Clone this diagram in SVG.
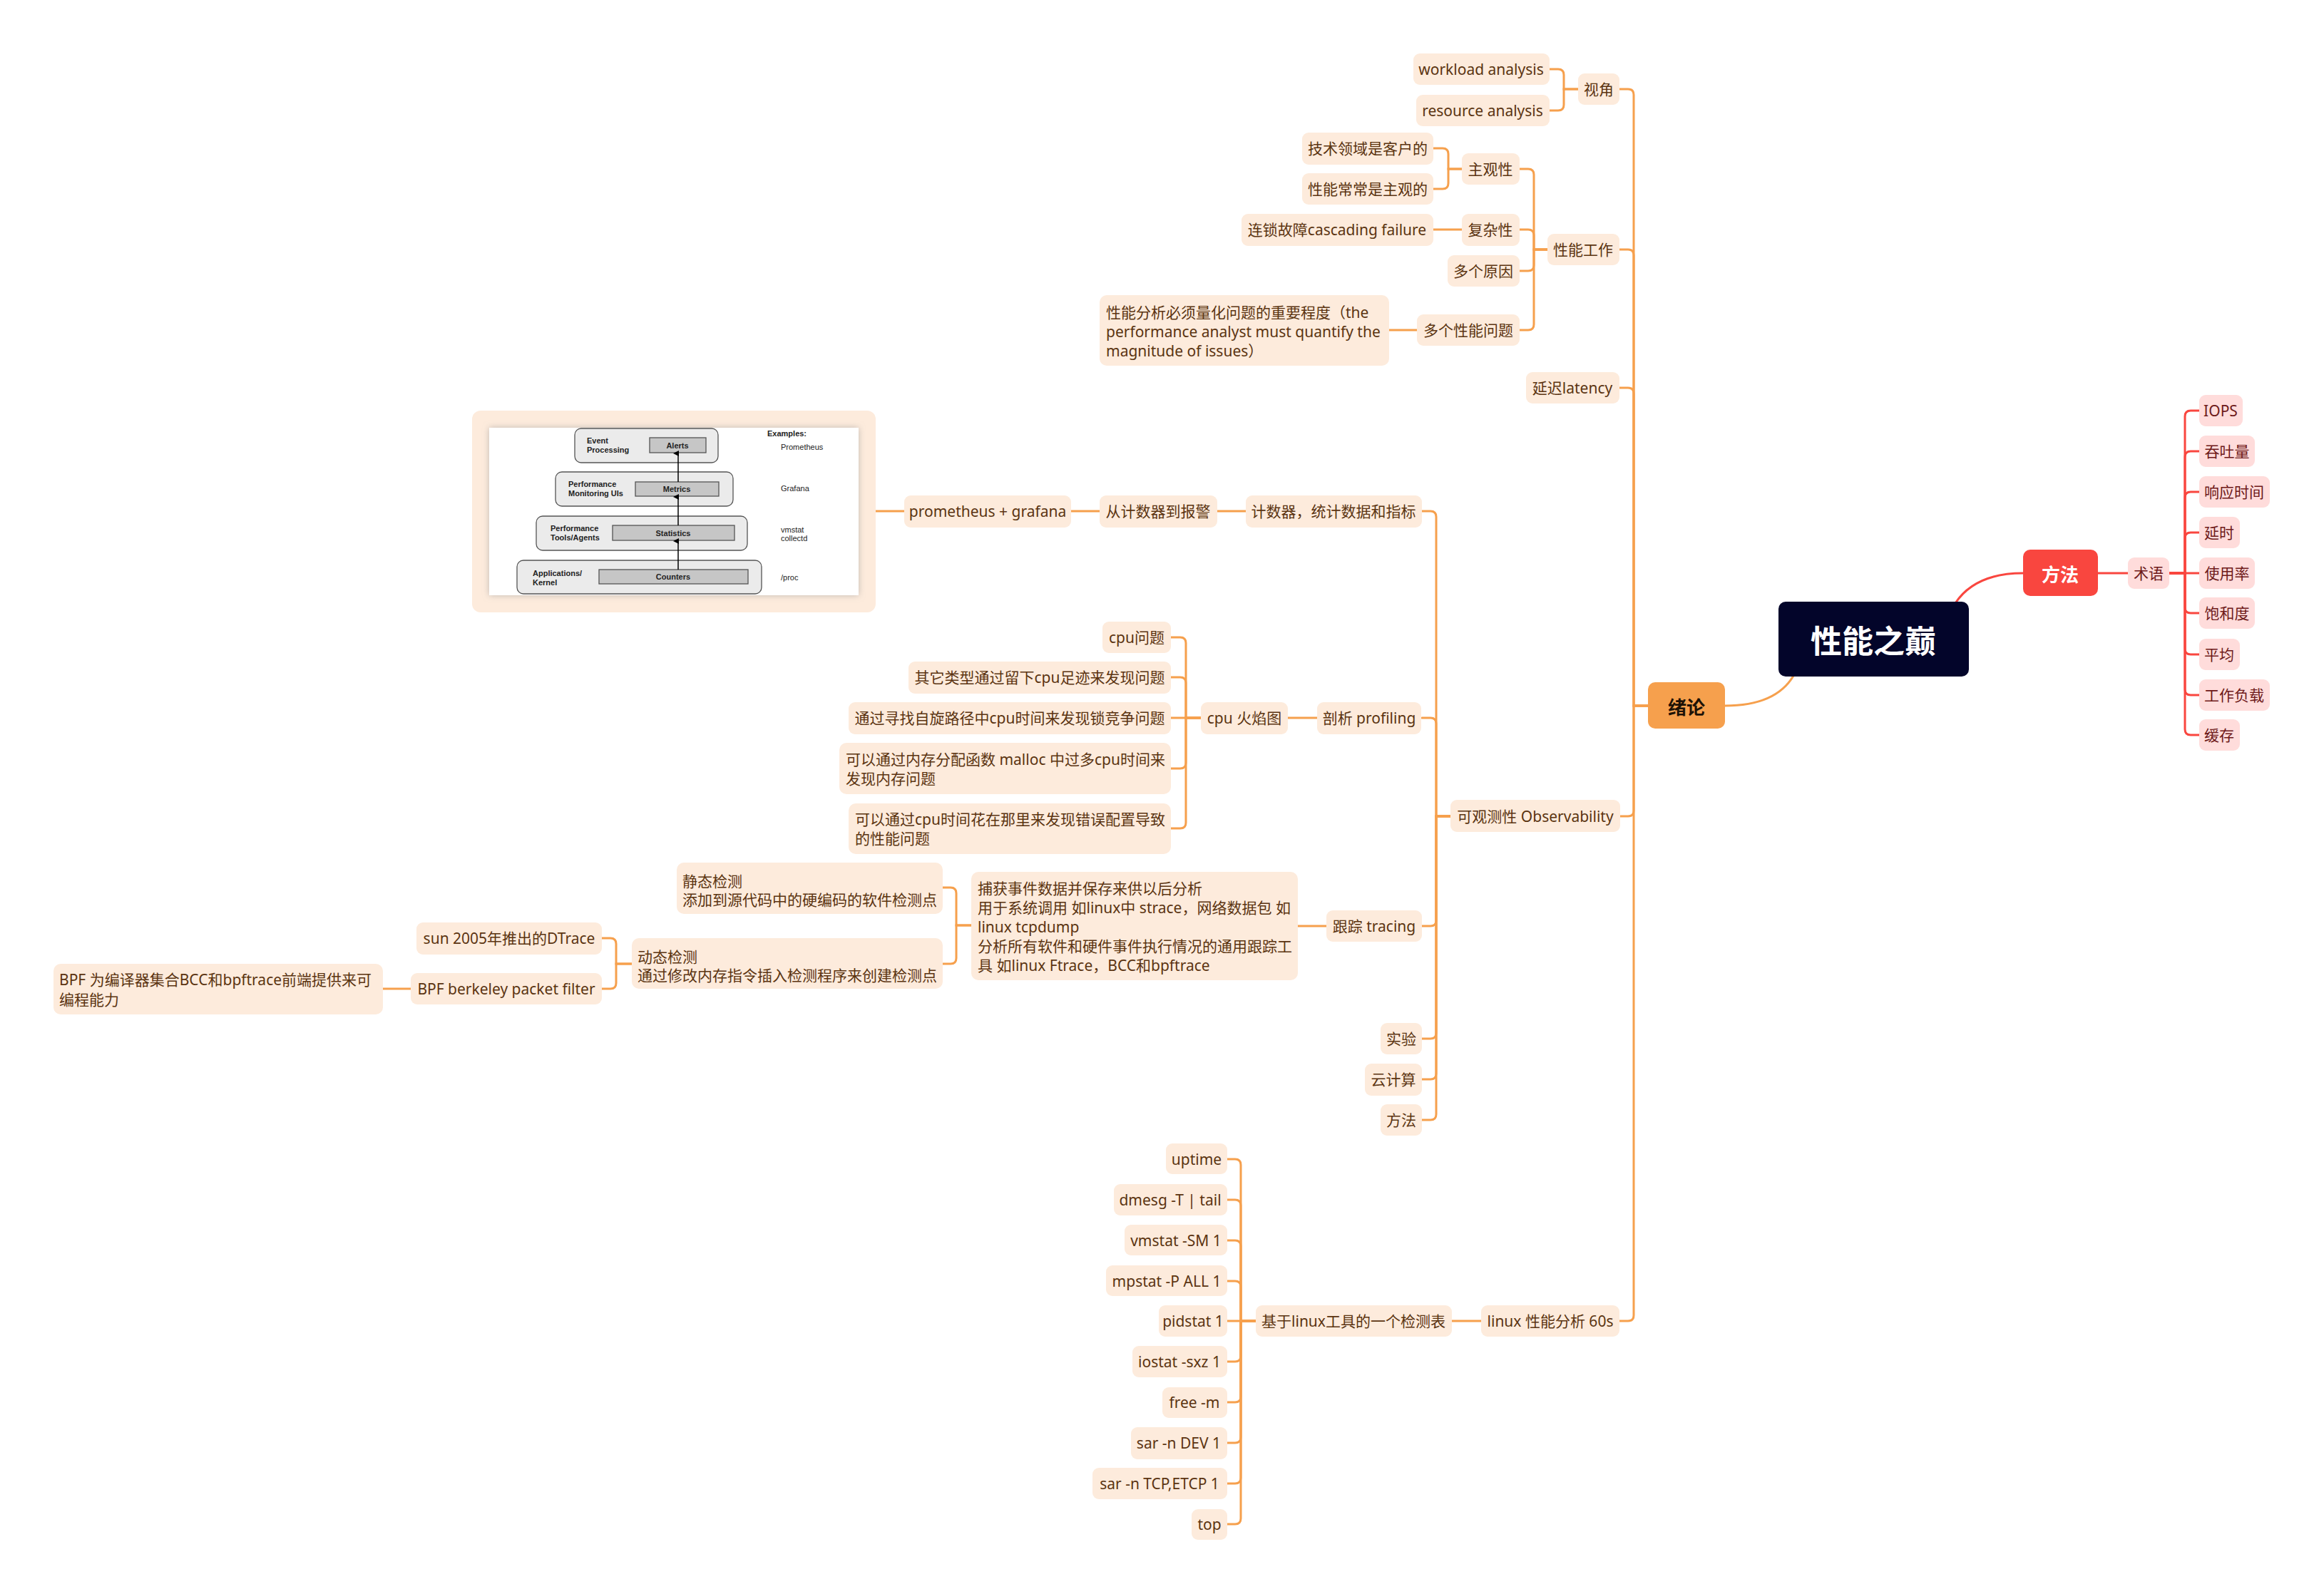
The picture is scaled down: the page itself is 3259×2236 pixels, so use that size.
<svg xmlns="http://www.w3.org/2000/svg" width="3259" height="2236" viewBox="0 0 3259 2236">
<style>
.bg{fill:#ffffff}
.n rect{fill:#FDEBDC}
.n text,.t{font-family:"Noto Sans","Noto Sans CJK SC",sans-serif;font-size:21px;fill:#5B3411;dominant-baseline:central}
.c{text-anchor:middle}
.p rect{fill:#FFDCDB}
.p text{font-family:"Noto Sans","Noto Sans CJK SC",sans-serif;font-size:21px;fill:#6E1A1A;dominant-baseline:central;text-anchor:middle}
.lo{fill:none;stroke:#F6A04D;stroke-width:3;stroke-linecap:round}
.lr{fill:none;stroke:#F9463F;stroke-width:3;stroke-linecap:round}
.im{font-family:"Liberation Sans",Arial,sans-serif;font-size:11px;fill:#222;dominant-baseline:central}
.imb{font-weight:bold}
.lay{fill:#EBEBEB;stroke:#555;stroke-width:1.3}
.inn{fill:#C6C6C6;stroke:#555;stroke-width:1.3}
</style>
<defs>
<filter id="sh" x="-10%" y="-10%" width="120%" height="120%">
<feDropShadow dx="0" dy="0" stdDeviation="5" flood-color="#999" flood-opacity="0.6"/>
</filter>
<marker id="ah" markerWidth="8" markerHeight="8" refX="4" refY="7" orient="auto" markerUnits="userSpaceOnUse" viewBox="0 0 8 8">
<path d="M0 8L4 0L8 8Z" fill="#000"/>
</marker>
</defs>
<rect class="bg" x="0" y="0" width="3259" height="2236"/>

<g id="connectors">
<path class="lr" stroke-width="4" d="M2742 846Q2770 804 2837 804"/>
<path class="lo" stroke-width="4" d="M2515 948Q2490 990 2419 990"/>
<path class="lr" d="M2942 804H2984"/>
<path class="lr" d="M3042 804H3064V584Q3064 576 3072 576H3084"/>
<path class="lr" d="M3042 804H3064V641Q3064 633 3072 633H3084"/>
<path class="lr" d="M3042 804H3064V698Q3064 690 3072 690H3084"/>
<path class="lr" d="M3042 804H3064V755Q3064 747 3072 747H3084"/>
<path class="lr" d="M3042 804H3084"/>
<path class="lr" d="M3042 804H3064V852Q3064 860 3072 860H3084"/>
<path class="lr" d="M3042 804H3064V910Q3064 918 3072 918H3084"/>
<path class="lr" d="M3042 804H3064V967Q3064 975 3072 975H3084"/>
<path class="lr" d="M3042 804H3064V1023Q3064 1031 3072 1031H3084"/>

<path class="lo" d="M2311 990H2291V133Q2291 125 2283 125H2271"/>
<path class="lo" d="M2311 990H2291V358Q2291 350 2283 350H2271"/>
<path class="lo" d="M2311 990H2291V552Q2291 544 2283 544H2271"/>
<path class="lo" d="M2311 990H2291V1137Q2291 1145 2283 1145H2271"/>
<path class="lo" d="M2311 990H2291V1845Q2291 1853 2283 1853H2271"/>

<path class="lo" d="M2213 125H2193V105Q2193 97 2185 97H2173"/>
<path class="lo" d="M2213 125H2193V147Q2193 155 2185 155H2173"/>

<path class="lo" d="M2170 350H2151V245Q2151 237 2143 237H2131"/>
<path class="lo" d="M2170 350H2151V330Q2151 322 2143 322H2131"/>
<path class="lo" d="M2170 350H2151V372Q2151 380 2143 380H2131"/>
<path class="lo" d="M2170 350H2151V455Q2151 463 2143 463H2131"/>

<path class="lo" d="M2050 237H2031V216Q2031 208 2023 208H2010"/>
<path class="lo" d="M2050 237H2031V257Q2031 265 2023 265H2010"/>
<path class="lo" d="M2050 322H2010"/>
<path class="lo" d="M1987 463H1948"/>

<path class="lo" d="M2034 1145H2014V725Q2014 717 2006 717H1994"/>
<path class="lo" d="M2034 1145H2014V1015Q2014 1007 2006 1007H1994"/>
<path class="lo" d="M2034 1145H2014V1291Q2014 1299 2006 1299H1994"/>
<path class="lo" d="M2034 1145H2014V1449Q2014 1457 2006 1457H1994"/>
<path class="lo" d="M2034 1145H2014V1506Q2014 1514 2006 1514H1994"/>
<path class="lo" d="M2034 1145H2014V1563Q2014 1571 2006 1571H1994"/>

<path class="lo" d="M1747 717H1707"/>
<path class="lo" d="M1542 717H1502"/>
<path class="lo" d="M1268 717H1228"/>

<path class="lo" d="M1847 1007H1806"/>
<path class="lo" d="M1684 1007H1663V902Q1663 894 1655 894H1642"/>
<path class="lo" d="M1684 1007H1663V958Q1663 950 1655 950H1642"/>
<path class="lo" d="M1684 1007H1642"/>
<path class="lo" d="M1684 1007H1663V1070Q1663 1078 1655 1078H1642"/>
<path class="lo" d="M1684 1007H1663V1154Q1663 1162 1655 1162H1642"/>

<path class="lo" d="M1860 1299H1820"/>
<path class="lo" d="M1362 1298H1341V1253Q1341 1245 1333 1245H1322"/>
<path class="lo" d="M1362 1298H1341V1344Q1341 1352 1333 1352H1322"/>
<path class="lo" d="M886 1352H864V1324Q864 1316 856 1316H844"/>
<path class="lo" d="M886 1352H864V1379Q864 1387 856 1387H844"/>
<path class="lo" d="M576 1387H537"/>

<path class="lo" d="M2077 1853H2036"/>
<path class="lo" d="M1761 1853H1740V1634Q1740 1626 1732 1626H1721"/>
<path class="lo" d="M1761 1853H1740V1691Q1740 1683 1732 1683H1721"/>
<path class="lo" d="M1761 1853H1740V1748Q1740 1740 1732 1740H1721"/>
<path class="lo" d="M1761 1853H1740V1805Q1740 1797 1732 1797H1721"/>
<path class="lo" d="M1761 1853H1721"/>
<path class="lo" d="M1761 1853H1740V1902Q1740 1910 1732 1910H1721"/>
<path class="lo" d="M1761 1853H1740V1959Q1740 1967 1732 1967H1721"/>
<path class="lo" d="M1761 1853H1740V2016Q1740 2024 1732 2024H1721"/>
<path class="lo" d="M1761 1853H1740V2073Q1740 2081 1732 2081H1721"/>
<path class="lo" d="M1761 1853H1740V2130Q1740 2138 1732 2138H1721"/>
</g>

<!-- root and main branches -->
<g id="n-root"><rect x="2494" y="844" width="267" height="105" rx="10" fill="#03052A"/><text x="2627" y="897" font-family="'Noto Sans CJK SC',sans-serif" font-size="44" font-weight="bold" fill="#ffffff" text-anchor="middle" dominant-baseline="central">性能之巅</text></g>
<g id="n-xulun"><rect x="2311" y="957" width="108" height="65" rx="10" fill="#F6A04D"/><text x="2365" y="990" font-family="'Noto Sans CJK SC',sans-serif" font-size="26" font-weight="bold" fill="#1E1206" text-anchor="middle" dominant-baseline="central">绪论</text></g>
<g id="n-fangfa-r"><rect x="2837" y="771" width="105" height="65" rx="10" fill="#F9463F"/><text x="2889" y="804" font-family="'Noto Sans CJK SC',sans-serif" font-size="26" font-weight="bold" fill="#ffffff" text-anchor="middle" dominant-baseline="central">方法</text></g>

<g id="n-shuyu" class="p"><rect x="2984" y="782" width="58" height="44" rx="9"/><text x="3013" y="804">术语</text></g>
<g id="n-iops" class="p"><rect x="3084" y="554" width="61" height="44" rx="9"/><text x="3114" y="576">IOPS</text></g>
<g id="n-tuntu" class="p"><rect x="3084" y="611" width="78" height="44" rx="9"/><text x="3123" y="633">吞吐量</text></g>
<g id="n-xiangying" class="p"><rect x="3084" y="668" width="99" height="44" rx="9"/><text x="3133" y="690">响应时间</text></g>
<g id="n-yanshi" class="p"><rect x="3084" y="725" width="57" height="44" rx="9"/><text x="3112" y="747">延时</text></g>
<g id="n-shiyonglv" class="p"><rect x="3084" y="782" width="78" height="44" rx="9"/><text x="3123" y="804">使用率</text></g>
<g id="n-baohe" class="p"><rect x="3084" y="838" width="78" height="44" rx="9"/><text x="3123" y="860">饱和度</text></g>
<g id="n-pingjun" class="p"><rect x="3084" y="896" width="57" height="44" rx="9"/><text x="3112" y="918">平均</text></g>
<g id="n-fuzai" class="p"><rect x="3084" y="953" width="99" height="44" rx="9"/><text x="3133" y="975">工作负载</text></g>
<g id="n-huancun" class="p"><rect x="3084" y="1009" width="57" height="44" rx="9"/><text x="3112" y="1031">缓存</text></g>

<!-- 绪论 children -->
<g id="n-shijiao" class="n"><rect x="2213" y="103" width="58" height="44" rx="9"/><text class="c" x="2242" y="125">视角</text></g>
<g id="n-workload" class="n"><rect x="1982" y="75" width="191" height="44" rx="9"/><text class="c" x="2077" y="97">workload analysis</text></g>
<g id="n-resource" class="n"><rect x="1986" y="133" width="187" height="44" rx="9"/><text class="c" x="2079" y="155">resource analysis</text></g>
<g id="n-xingnenggongzuo" class="n"><rect x="2170" y="328" width="101" height="44" rx="9"/><text class="c" x="2220" y="350">性能工作</text></g>
<g id="n-zhuguan" class="n"><rect x="2050" y="215" width="81" height="44" rx="9"/><text class="c" x="2090" y="237">主观性</text></g>
<g id="n-jishu" class="n"><rect x="1826" y="186" width="184" height="45" rx="9"/><text class="c" x="1918" y="208">技术领域是客户的</text></g>
<g id="n-changchang" class="n"><rect x="1826" y="243" width="184" height="44" rx="9"/><text class="c" x="1918" y="265">性能常常是主观的</text></g>
<g id="n-fuza" class="n"><rect x="2050" y="300" width="81" height="45" rx="9"/><text class="c" x="2090" y="322">复杂性</text></g>
<g id="n-liansuo" class="n"><rect x="1741" y="300" width="269" height="45" rx="9"/><text class="c" x="1875" y="322">连锁故障cascading failure</text></g>
<g id="n-duoyuanyin" class="n"><rect x="2030" y="358" width="101" height="44" rx="9"/><text class="c" x="2080" y="380">多个原因</text></g>
<g id="n-duowenti" class="n"><rect x="1987" y="441" width="144" height="44" rx="9"/><text class="c" x="2059" y="463">多个性能问题</text></g>
<g id="n-lianghua" class="n"><rect x="1542" y="414" width="406" height="99" rx="10"/><text x="1551" y="438">性能分析必须量化问题的重要程度（the</text><text x="1551" y="465">performance analyst must quantify the</text><text x="1551" y="492">magnitude of issues）</text></g>
<g id="n-latency" class="n"><rect x="2140" y="522" width="131" height="44" rx="9"/><text class="c" x="2205" y="544">延迟latency</text></g>
<g id="n-observability" class="n"><rect x="2034" y="1122" width="238" height="45" rx="9"/><text class="c" x="2153" y="1145">可观测性 Observability</text></g>
<g id="n-linux60" class="n"><rect x="2077" y="1831" width="194" height="44" rx="9"/><text class="c" x="2174" y="1853">linux 性能分析 60s</text></g>

<!-- observability children -->
<g id="n-jishuqi" class="n"><rect x="1747" y="695" width="247" height="45" rx="9"/><text class="c" x="1870" y="717">计数器，统计数据和指标</text></g>
<g id="n-baojing" class="n"><rect x="1542" y="695" width="165" height="45" rx="9"/><text class="c" x="1624" y="717">从计数器到报警</text></g>
<g id="n-prometheus" class="n"><rect x="1268" y="695" width="234" height="45" rx="9"/><text class="c" x="1385" y="717">prometheus + grafana</text></g>
<g id="n-figure">
<rect x="662" y="576" width="566" height="283" rx="12" fill="#FDEBDC"/>
<rect x="686" y="600" width="518" height="235" fill="#ffffff" filter="url(#sh)"/>
<rect class="lay" x="806" y="601" width="201" height="48" rx="9"/>
<rect class="inn" x="911" y="614" width="79" height="21"/>
<rect class="lay" x="779" y="662" width="249" height="48" rx="9"/>
<rect class="inn" x="891" y="676" width="117" height="20"/>
<rect class="lay" x="752" y="724" width="296" height="48" rx="9"/>
<rect class="inn" x="859" y="737" width="171" height="21"/>
<rect class="lay" x="725" y="786" width="343" height="47" rx="9"/>
<rect class="inn" x="840" y="799" width="209" height="20"/>
<line x1="951" y1="799" x2="951" y2="759" stroke="#000" stroke-width="1.5" marker-end="url(#ah)"/>
<line x1="951" y1="737" x2="951" y2="697" stroke="#000" stroke-width="1.5" marker-end="url(#ah)"/>
<line x1="951" y1="676" x2="951" y2="636" stroke="#000" stroke-width="1.5" marker-end="url(#ah)"/>
<text class="im imb" x="823" y="618">Event</text>
<text class="im imb" x="823" y="631">Processing</text>
<text class="im imb" x="950" y="624.5" text-anchor="middle">Alerts</text>
<text class="im imb" x="797" y="679">Performance</text>
<text class="im imb" x="797" y="692">Monitoring UIs</text>
<text class="im imb" x="949" y="686" text-anchor="middle">Metrics</text>
<text class="im imb" x="772" y="741">Performance</text>
<text class="im imb" x="772" y="754">Tools/Agents</text>
<text class="im imb" x="944" y="747.5" text-anchor="middle">Statistics</text>
<text class="im imb" x="747" y="804">Applications/</text>
<text class="im imb" x="747" y="817">Kernel</text>
<text class="im imb" x="944" y="809" text-anchor="middle">Counters</text>
<text class="im imb" x="1076" y="608">Examples:</text>
<text class="im" x="1095" y="627">Prometheus</text>
<text class="im" x="1095" y="685">Grafana</text>
<text class="im" x="1095" y="743">vmstat</text>
<text class="im" x="1095" y="755">collectd</text>
<text class="im" x="1095" y="810">/proc</text>
</g>
<g id="n-profiling" class="n"><rect x="1847" y="985" width="146" height="45" rx="9"/><text class="c" x="1920" y="1007">剖析 profiling</text></g>
<g id="n-flame" class="n"><rect x="1684" y="985" width="122" height="45" rx="9"/><text class="c" x="1745" y="1007">cpu 火焰图</text></g>
<g id="n-cpuwenti" class="n"><rect x="1546" y="872" width="96" height="44" rx="9"/><text class="c" x="1594" y="894">cpu问题</text></g>
<g id="n-zuji" class="n"><rect x="1274" y="928" width="368" height="45" rx="9"/><text class="c" x="1458" y="950">其它类型通过留下cpu足迹来发现问题</text></g>
<g id="n-zixuan" class="n"><rect x="1190" y="985" width="452" height="45" rx="9"/><text class="c" x="1416" y="1007">通过寻找自旋路径中cpu时间来发现锁竞争问题</text></g>
<g id="n-malloc" class="n"><rect x="1177" y="1042" width="465" height="72" rx="10"/><text x="1186" y="1065">可以通过内存分配函数 malloc 中过多cpu时间来</text><text x="1186" y="1092">发现内存问题</text></g>
<g id="n-peizhi" class="n"><rect x="1190" y="1127" width="452" height="71" rx="10"/><text x="1199" y="1149">可以通过cpu时间花在那里来发现错误配置导致</text><text x="1199" y="1176">的性能问题</text></g>
<g id="n-tracing" class="n"><rect x="1860" y="1277" width="134" height="44" rx="9"/><text class="c" x="1927" y="1299">跟踪 tracing</text></g>
<g id="n-buhuo" class="n"><rect x="1362" y="1223" width="458" height="152" rx="10"/><text x="1371" y="1246">捕获事件数据并保存来供以后分析</text><text x="1371" y="1273">用于系统调用 如linux中 strace，网络数据包 如</text><text x="1371" y="1300">linux tcpdump</text><text x="1371" y="1327">分析所有软件和硬件事件执行情况的通用跟踪工</text><text x="1371" y="1354">具 如linux Ftrace，BCC和bpftrace</text></g>
<g id="n-jingtai" class="n"><rect x="949" y="1210" width="373" height="72" rx="10"/><text x="957" y="1236">静态检测</text><text x="957" y="1262">添加到源代码中的硬编码的软件检测点</text></g>
<g id="n-dongtai" class="n"><rect x="886" y="1316" width="436" height="71" rx="10"/><text x="894" y="1342">动态检测</text><text x="894" y="1368">通过修改内存指令插入检测程序来创建检测点</text></g>
<g id="n-dtrace" class="n"><rect x="584" y="1294" width="260" height="45" rx="9"/><text class="c" x="714" y="1316">sun 2005年推出的DTrace</text></g>
<g id="n-bpf" class="n"><rect x="576" y="1365" width="268" height="44" rx="9"/><text class="c" x="710" y="1387">BPF berkeley packet filter</text></g>
<g id="n-bpfbcc" class="n"><rect x="75" y="1352" width="462" height="71" rx="10"/><text x="83" y="1374">BPF 为编译器集合BCC和bpftrace前端提供来可</text><text x="83" y="1402">编程能力</text></g>
<g id="n-shiyan" class="n"><rect x="1936" y="1435" width="58" height="44" rx="9"/><text class="c" x="1965" y="1457">实验</text></g>
<g id="n-yunjisuan" class="n"><rect x="1914" y="1492" width="80" height="45" rx="9"/><text class="c" x="1954" y="1514">云计算</text></g>
<g id="n-fangfa-o" class="n"><rect x="1936" y="1549" width="58" height="44" rx="9"/><text class="c" x="1965" y="1571">方法</text></g>

<!-- linux 60s children -->
<g id="n-jiance" class="n"><rect x="1761" y="1831" width="275" height="44" rx="9"/><text class="c" x="1898" y="1853">基于linux工具的一个检测表</text></g>
<g id="n-uptime" class="n"><rect x="1635" y="1604" width="86" height="43" rx="9"/><text class="c" x="1678" y="1626">uptime</text></g>
<g id="n-dmesg" class="n"><rect x="1562" y="1661" width="159" height="44" rx="9"/><text class="c" x="1641" y="1683">dmesg -T | tail</text></g>
<g id="n-vmstat" class="n"><rect x="1577" y="1718" width="144" height="43" rx="9"/><text class="c" x="1649" y="1740">vmstat -SM 1</text></g>
<g id="n-mpstat" class="n"><rect x="1551" y="1775" width="170" height="43" rx="9"/><text class="c" x="1636" y="1797">mpstat -P ALL 1</text></g>
<g id="n-pidstat" class="n"><rect x="1625" y="1831" width="96" height="44" rx="9"/><text class="c" x="1673" y="1853">pidstat 1</text></g>
<g id="n-iostat" class="n"><rect x="1588" y="1888" width="133" height="44" rx="9"/><text class="c" x="1654" y="1910">iostat -sxz 1</text></g>
<g id="n-free" class="n"><rect x="1630" y="1946" width="91" height="43" rx="9"/><text class="c" x="1675" y="1967">free -m</text></g>
<g id="n-sardev" class="n"><rect x="1586" y="2002" width="135" height="45" rx="9"/><text class="c" x="1653" y="2024">sar -n DEV 1</text></g>
<g id="n-sartcp" class="n"><rect x="1532" y="2059" width="189" height="44" rx="9"/><text class="c" x="1626" y="2081">sar -n TCP,ETCP 1</text></g>
<g id="n-top" class="n"><rect x="1671" y="2117" width="50" height="43" rx="9"/><text class="c" x="1696" y="2138">top</text></g>
</svg>
